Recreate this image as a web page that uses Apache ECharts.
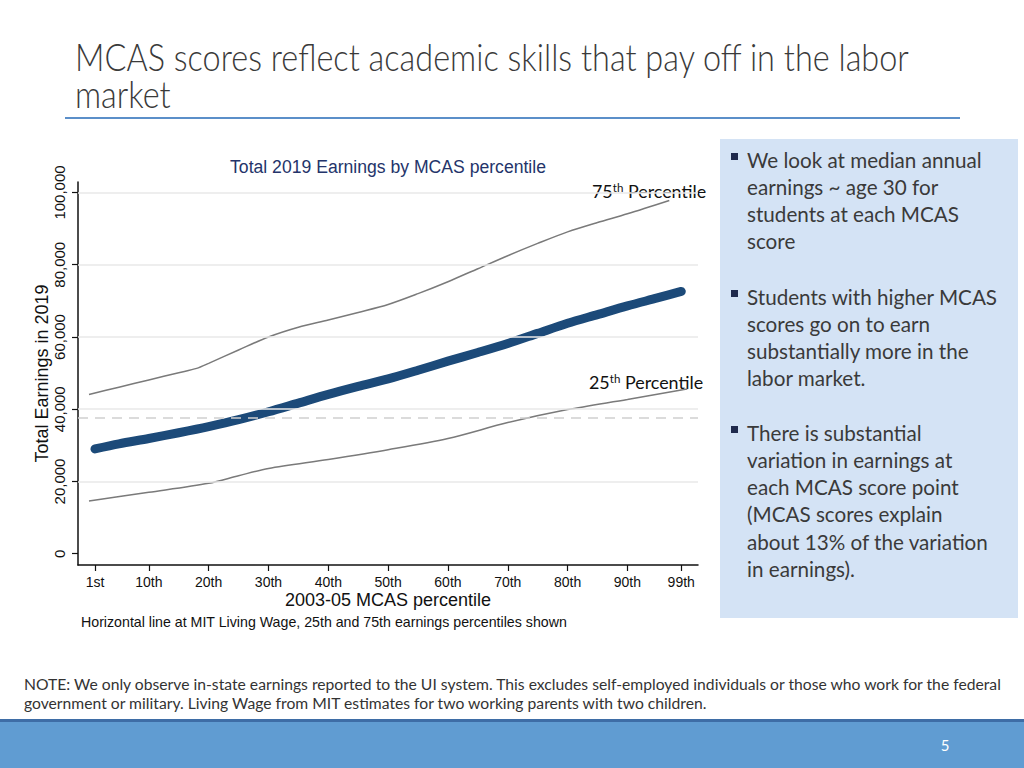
<!DOCTYPE html>
<html>
<head>
<meta charset="utf-8">
<title>MCAS earnings</title>
<script src="https://cdn.jsdelivr.net/npm/echarts@6/dist/echarts.min.js"></script>
<style>
  html, body { margin: 0; padding: 0; background: #fff; }
  #main { width: 1024px; height: 768px; }
</style>
</head>
<body>
<div id="main"></div>
<script>
// ---- data ----
const xTicks = [1, 10, 20, 30, 40, 50, 60, 70, 80, 90, 99];
const yTicks = [0, 20000, 40000, 60000, 80000, 100000];
const livingWage = 37700;

const medianPct = [1, 5, 10, 15, 20, 25, 30, 35, 40, 45, 50, 55, 60, 65, 70, 75, 80, 85, 90, 95, 99];
const medianVal = [29000, 30400, 31900, 33500, 35200, 37100, 39300, 41700, 44100, 46300, 48400,
                   50800, 53300, 55700, 58200, 61000, 63800, 66200, 68600, 70800, 72600];

const p75Pct = [0, 5, 10, 15, 18, 20, 25, 30, 35, 40, 45, 50, 55, 60, 65, 70, 75, 80, 85, 90, 97];
const p75Val = [44100, 46100, 48100, 50100, 51300, 52700, 56400, 60000, 62700, 64700, 66800,
                69000, 72000, 75300, 78900, 82500, 85900, 89100, 91700, 94100, 97800];

const p25Pct = [0, 10, 20, 25, 30, 40, 50, 60, 70, 80, 90, 99, 100];
const p25Val = [14600, 17000, 19500, 21600, 23600, 26100, 28800, 31900, 36300, 39900, 42700, 45300, 45600];

const titleLines = ['MCAS scores reflect academic skills that pay off in the labor', 'market'];
const bullets = [
  ['We look at median annual', 'earnings ~ age 30 for', 'students at each MCAS', 'score'],
  ['Students with higher MCAS', 'scores go on to earn', 'substantially more in the', 'labor market.'],
  ['There is substantial', 'variation in earnings at', 'each MCAS score point', '(MCAS scores explain',
   'about 13% of the variation', 'in earnings).']
];
const noteLines = [
  'NOTE: We only observe in-state earnings reported to the UI system. This excludes self-employed individuals or those who work for the federal',
  'government or military. Living Wage from MIT estimates for two working parents with two children.'
];

const pairs = (xs, ys) => xs.map((x, i) => [x, ys[i]]);

// scale a line of text so it spans the width it has in the picture
const ctx = document.createElement('canvas').getContext('2d');
function fitScale(text, font, width) {
  ctx.font = font;
  return width / ctx.measureText(text).width;
}

const graphic = [];

// slide title
const titleFont = '300 38px Lato';
const tScale = fitScale(titleLines[0], titleFont, 835);
titleLines.forEach((t, i) => {
  graphic.push({ type: 'text', x: 75, y: 56 + i * 37, scaleX: tScale,
    style: { text: t, font: titleFont, fill: '#3a3a3a', verticalAlign: 'middle' } });
});
graphic.push({ type: 'rect', shape: { x: 65, y: 117, width: 895, height: 2 }, style: { fill: '#5b8fc9' } });

// right text box
graphic.push({ type: 'rect', shape: { x: 720, y: 139, width: 298, height: 479 }, style: { fill: '#d4e3f5' } });
const bFont = '21px Lato';
const bScale = fitScale(bullets[1][0], bFont, 251);
const blockTop = [159, 296, 432];
bullets.forEach((lines, b) => {
  graphic.push({ type: 'rect', shape: { x: 731, y: blockTop[b] - 6, width: 7, height: 7 }, style: { fill: '#1f2a4d' } });
  lines.forEach((t, i) => {
    graphic.push({ type: 'text', x: 747, y: blockTop[b] + i * 27.3, scaleX: bScale,
      style: { text: t, font: bFont, fill: '#3a3a3a', verticalAlign: 'middle' } });
  });
});

// chart title and footnote (Stata style)
graphic.push({ type: 'text', x: 388, y: 167,
  style: { text: 'Total 2019 Earnings by MCAS percentile', font: '17.6px "Liberation Sans"', fill: '#24346a',
           align: 'center', verticalAlign: 'middle' } });
graphic.push({ type: 'text', x: 81, y: 622,
  style: { text: 'Horizontal line at MIT Living Wage, 25th and 75th earnings percentiles shown',
           font: '14.2px "Liberation Sans"', fill: '#111', verticalAlign: 'middle' } });

// percentile labels
const labFont = '17px Lato';
const labScale = fitScale('75th Percentile', labFont, 120);
[['75', 592, 192], ['25', 589, 383]].forEach(([n, x, y]) => {
  graphic.push({ type: 'text', x: x, y: y, scaleX: labScale,
    style: { text: '{n|' + n + '}{s|th}{n| Percentile}', verticalAlign: 'middle',
      rich: { n: { font: labFont, fill: '#111', lineHeight: 20 },
              s: { font: '11px Lato', fill: '#111', lineHeight: 20, verticalAlign: 'top' } } } });
});

// footnote
const nFont = '15px Lato';
const nScale = fitScale(noteLines[0], nFont, 980);
noteLines.forEach((t, i) => {
  graphic.push({ type: 'text', x: 24, y: 684 + i * 19.5, scaleX: nScale,
    style: { text: t, font: nFont, fill: '#333', verticalAlign: 'middle' } });
});

// bottom band
graphic.push({ type: 'rect', shape: { x: 0, y: 719, width: 1024, height: 3 }, style: { fill: '#3e6da6' } });
graphic.push({ type: 'rect', shape: { x: 0, y: 722, width: 1024, height: 46 }, style: { fill: '#609cd2' } });
graphic.push({ type: 'text', x: 945, y: 745,
  style: { text: '5', font: '15px Lato', fill: '#fff', align: 'center', verticalAlign: 'middle' } });

const chart = echarts.init(document.getElementById('main'), null, { renderer: 'svg' });
chart.setOption({
  animation: false,
  backgroundColor: '#fff',
  textStyle: { fontFamily: 'Liberation Sans' },
  grid: { left: 78, top: 182, width: 620, height: 383, containLabel: false },
  xAxis: {
    type: 'value', min: -1.84, max: 101.8,
    name: '2003-05 MCAS percentile', nameLocation: 'middle', nameGap: 26, nameMoveOverlap: false,
    nameTextStyle: { fontSize: 18, color: '#111' },
    axisLine: { show: true, onZero: false, lineStyle: { color: '#111', width: 1.5 } },
    axisTick: { show: true, length: 6, customValues: xTicks, lineStyle: { color: '#111', width: 1.2 } },
    axisLabel: { customValues: xTicks, fontSize: 14, color: '#111', margin: 10,
                 formatter: v => (v === 1 ? '1st' : v + 'th') },
    splitLine: { show: false }
  },
  yAxis: {
    type: 'value', min: -3120, max: 102900,
    name: 'Total Earnings in 2019', nameLocation: 'middle', nameGap: 27, nameMoveOverlap: false,
    nameTextStyle: { fontSize: 18, color: '#111' },
    axisLine: { show: true, onZero: false, lineStyle: { color: '#111', width: 1.5 } },
    axisTick: { show: true, length: 6, customValues: yTicks, lineStyle: { color: '#111', width: 1.2 } },
    axisLabel: { customValues: yTicks, rotate: 90, fontSize: 15, color: '#111', margin: 11,
                 formatter: v => v.toLocaleString('en-US') },
    splitLine: { show: false }
  },
  series: [
    {
      type: 'line', data: [], silent: true,
      markLine: {
        silent: true, symbol: 'none', label: { show: false },
        data: yTicks.filter(v => v > 0).map(v => ({ yAxis: v, lineStyle: { color: '#e8e8e8', width: 1.5, type: 'solid' } }))
          .concat([{ yAxis: livingWage, lineStyle: { color: '#cfcfcf', width: 1.5, type: [10, 7] } }])
      }
    },
    { name: '25th', type: 'line', data: pairs(p25Pct, p25Val), smooth: 0.3, symbol: 'none',
      lineStyle: { color: '#7a7a7a', width: 1.5 } },
    { name: '75th', type: 'line', data: pairs(p75Pct, p75Val), smooth: 0.3, symbol: 'none',
      lineStyle: { color: '#7a7a7a', width: 1.5 } },
    { name: 'Median', type: 'line', data: pairs(medianPct, medianVal), smooth: 0.3, symbol: 'none',
      lineStyle: { color: '#1c4a79', width: 9, cap: 'round', join: 'round' } }
  ],
  graphic: graphic
});
</script>
</body>
</html>
